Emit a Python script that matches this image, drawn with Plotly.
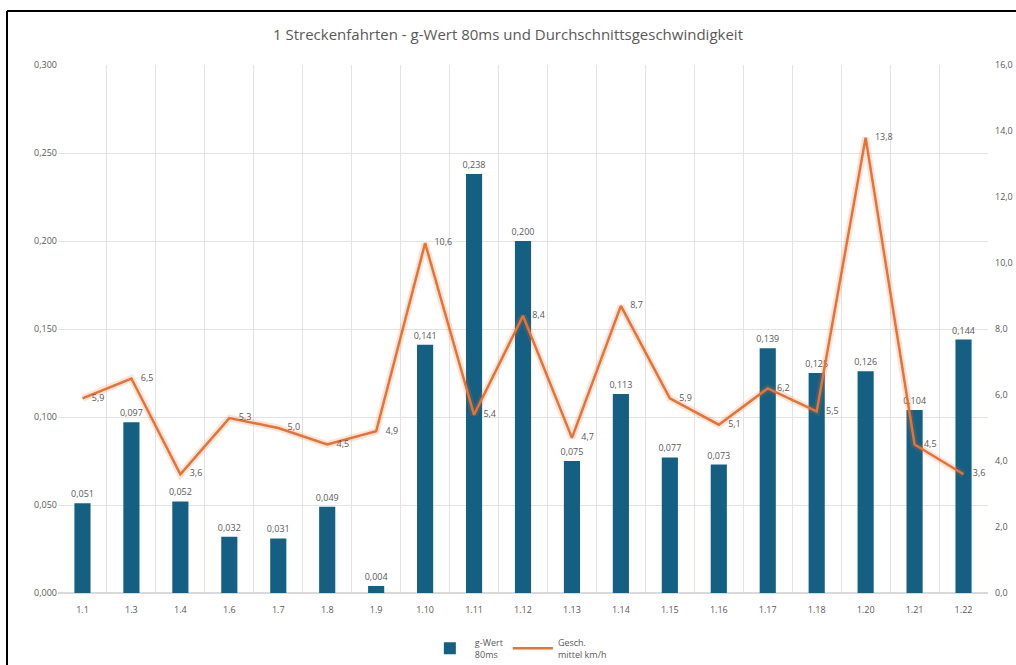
import plotly.graph_objects as go

categories = ["1.1", "1.3", "1.4", "1.6", "1.7", "1.8", "1.9", "1.10", "1.11", "1.12",
              "1.13", "1.14", "1.15", "1.16", "1.17", "1.18", "1.20", "1.21", "1.22"]
g_wert = [0.051, 0.097, 0.052, 0.032, 0.031, 0.049, 0.004, 0.141, 0.238, 0.200,
          0.075, 0.113, 0.077, 0.073, 0.139, 0.125, 0.126, 0.104, 0.144]
speed = [5.9, 6.5, 3.6, 5.3, 5.0, 4.5, 4.9, 10.6, 5.4, 8.4,
         4.7, 8.7, 5.9, 5.1, 6.2, 5.5, 13.8, 4.5, 3.6]

FONT = "Open Sans"
GRAY = "#595959"
BLUE = "#156082"
ORANGE = "#E97132"
PAD = "\u00a0" * 4

fig = go.Figure()
fig.add_trace(go.Bar(
    x=categories, y=g_wert, name="g-Wert<br>80ms",
    marker=dict(color=BLUE, line=dict(width=0)),
    texttemplate="%{y:.3f}", textposition="outside", constraintext="none",
    textfont=dict(size=9, color=GRAY, family=FONT),
    cliponaxis=False, yaxis="y",
))
fig.add_trace(go.Scatter(
    x=categories, y=speed, mode="lines", showlegend=False, hoverinfo="skip",
    line=dict(color="rgba(233,113,50,0.18)", width=7), yaxis="y2",
))
fig.add_trace(go.Scatter(
    x=categories, y=speed, name="Gesch.<br>mittel km/h", mode="lines+text",
    line=dict(color=ORANGE, width=2.5),
    texttemplate=PAD + "%{y:.1f}", textposition="middle right",
    textfont=dict(size=9, color=GRAY, family=FONT),
    cliponaxis=False, yaxis="y2",
))

fig.update_layout(
    width=1016, height=665,
    margin=dict(l=58, r=28, t=65, b=72, autoexpand=False),
    paper_bgcolor="white", plot_bgcolor="white",
    separators=",.",
    font=dict(family=FONT, color=GRAY, size=9),
    title=dict(text="1 Streckenfahrten - g-Wert 80ms und Durchschnittsgeschwindigkeit",
               x=0.5, xanchor="center", y=1 - 35 / 665, yanchor="middle",
               font=dict(size=15, color=GRAY, family=FONT)),
    bargap=0.67,
    showlegend=True,
    legend=dict(orientation="h", x=0.495, xanchor="center", y=-0.07, yanchor="top",
                font=dict(size=9, color=GRAY, family=FONT), traceorder="normal",
                itemwidth=40),
    xaxis=dict(type="category", range=[-0.5, len(categories) - 0.5],
               tickson="boundaries", showgrid=True, automargin=False,
               gridcolor="#e3e3e3", gridwidth=1, showline=False, ticks="",
               ticklabelstandoff=10,
               tickfont=dict(size=9, color=GRAY), ticklen=0),
    yaxis=dict(range=[0, 0.3], dtick=0.05, tickformat=".3f", showgrid=True,
               automargin=False,
               gridcolor="#e3e3e3", zeroline=True, zerolinecolor="#d9d9d9",
               showline=False, ticks="", tickfont=dict(size=9, color=GRAY)),
    yaxis2=dict(range=[0, 16], dtick=2, tickformat=".1f", overlaying="y", side="right",
                automargin=False, ticklabelstandoff=6,
                showgrid=False, zeroline=False, showline=False, ticks="",
                tickfont=dict(size=9, color=GRAY)),
    shapes=[
        dict(type="line", xref="paper", yref="paper",
             x0=(7 - 58) / 930, x1=(7 - 58) / 930,
             y0=(593 - 670) / 528, y1=(593 - 11) / 528,
             line=dict(color="black", width=2), layer="above"),
        dict(type="line", xref="paper", yref="paper",
             x0=(7 - 58) / 930, x1=(1030 - 58) / 930,
             y0=(593 - 11) / 528, y1=(593 - 11) / 528,
             line=dict(color="black", width=2), layer="above"),
    ],
)

fig.write_html("out.html")
